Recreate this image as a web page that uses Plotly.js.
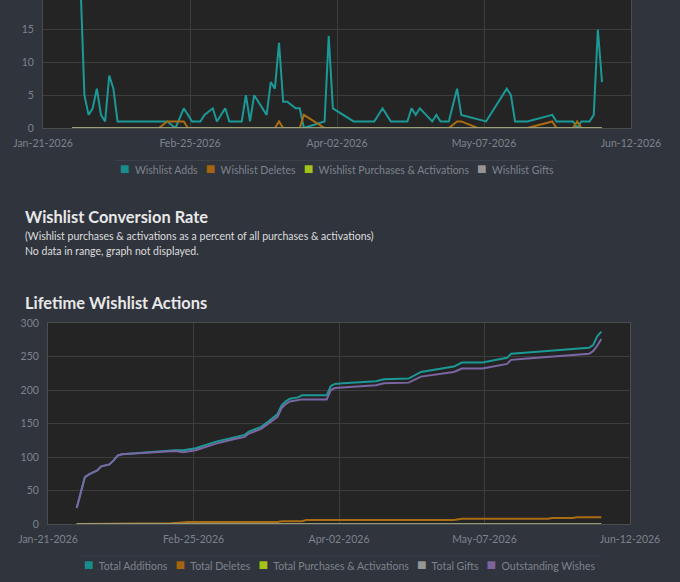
<!DOCTYPE html>
<html><head><meta charset="utf-8">
<script src="https://cdn.plot.ly/plotly-3.0.1.min.js"></script>
<style>
html,body{margin:0;padding:0;background:#30343d;width:680px;height:582px;overflow:hidden;font-family:Lato,"Noto Sans",sans-serif;}
#top{position:absolute;left:0;top:-220px;width:680px;height:413px;}
#bottom{position:absolute;left:0;top:302px;width:680px;height:280px;}
.h{position:absolute;left:25px;color:#e8e8e8;font-weight:bold;font-size:16.4px;line-height:20px;white-space:nowrap;}
.s{position:absolute;left:25px;color:#dddddd;font-size:10.5px;line-height:14px;white-space:nowrap;}
</style></head>
<body>
<div id="top"></div>
<div class="h" style="top:207px;">Wishlist Conversion Rate</div>
<div class="s" style="top:229px;">(Wishlist purchases &amp; activations as a percent of all purchases &amp; activations)</div>
<div class="s" style="top:244px;">No data in range, graph not displayed.</div>
<div class="h" style="top:293px;">Lifetime Wishlist Actions</div>
<div id="bottom"></div>
<script>
// ---------- Daily wishlist actions ----------
const addDates = ['2026-01-28','2026-01-29','2026-01-30','2026-01-31','2026-02-01','2026-02-02','2026-02-03','2026-02-04','2026-02-05','2026-02-06','2026-02-07','2026-02-08','2026-02-20','2026-02-22','2026-02-24','2026-02-26','2026-02-28','2026-03-01','2026-03-03','2026-03-04','2026-03-06','2026-03-07','2026-03-10','2026-03-11','2026-03-12','2026-03-13','2026-03-16','2026-03-17','2026-03-18','2026-03-19','2026-03-20','2026-03-21','2026-03-23','2026-03-24','2026-03-25','2026-03-30','2026-03-31','2026-04-01','2026-04-06','2026-04-11','2026-04-13','2026-04-15','2026-04-19','2026-04-20','2026-04-21','2026-04-22','2026-04-25','2026-04-26','2026-04-27','2026-04-29','2026-05-01','2026-05-02','2026-05-08','2026-05-13','2026-05-14','2026-05-15','2026-05-18','2026-05-24','2026-05-25','2026-05-29','2026-05-30','2026-05-31','2026-06-02','2026-06-03','2026-06-04','2026-06-05'];
const addValues = [24,23,23,5,2,3,6,2,1,8,6,1,1,0,3,1,1,2,3,1,3,1,1,5,1,5,2,7,6,13,4,4,3,3,0,1,14,3,1,1,3,1,1,3,2,3,1,2,1,1,6,2,1,6,5,1,1,2,1,1,0,1,1,2,15,7];

const delDates = ['2026-01-28','2026-02-18','2026-02-20','2026-02-22','2026-02-24','2026-02-25','2026-03-18','2026-03-19','2026-03-20','2026-03-24','2026-03-25','2026-03-30','2026-04-29','2026-05-01','2026-05-02','2026-05-06','2026-05-18','2026-05-24','2026-05-25','2026-05-29','2026-05-30','2026-05-31','2026-06-05'];
const delValues = [0,0,1,1,1,0,0,1,0,0,2,0,0,1,1,0,0,1,0,0,1,0,0];

const zeroDates = ['2026-01-28','2026-06-05'];
const purchaseValues = [0,0];
const giftValues = [0,0];

// ---------- Lifetime (cumulative) ----------
const lifeDates = ['2026-01-28','2026-01-29','2026-01-30','2026-01-31','2026-02-01','2026-02-02','2026-02-03','2026-02-04','2026-02-05','2026-02-06','2026-02-07','2026-02-08','2026-02-10','2026-02-14','2026-02-18','2026-02-21','2026-02-23','2026-02-26','2026-03-03','2026-03-07','2026-03-10','2026-03-11','2026-03-14','2026-03-16','2026-03-18','2026-03-19','2026-03-20','2026-03-21','2026-03-23','2026-03-24','2026-03-30','2026-03-31','2026-04-01','2026-04-03','2026-04-11','2026-04-13','2026-04-19','2026-04-22','2026-04-26','2026-04-30','2026-05-02','2026-05-07','2026-05-13','2026-05-14','2026-05-18','2026-05-25','2026-05-29','2026-06-02','2026-06-03','2026-06-04','2026-06-05'];
const totalAdditions = [24,47,70,74,77,80,86,88,89,95,102,104,105,106,108,110,110,113,123,129,133,138,145,154,164,177,183,187,189,192,192,206,209,210,213,216,217,227,231,235,241,241,248,254,256,259,261,263,267,280,287];
const outstandingWishes = [24,47,70,74,77,80,86,88,89,95,102,104,105,106,108,109,107,110,120,126,130,135,142,151,160,173,179,183,185,186,186,200,203,204,207,210,211,220,223,227,232,232,239,245,247,250,252,254,258,266,276];

const delCumDates = ['2026-01-28','2026-02-19','2026-02-20','2026-02-22','2026-02-24','2026-03-18','2026-03-19','2026-03-24','2026-03-25','2026-04-30','2026-05-01','2026-05-02','2026-05-23','2026-05-24','2026-05-29','2026-05-30','2026-06-05'];
const totalDeletes = [0,0,1,2,3,3,4,4,6,6,7,8,8,9,9,10,10];
const totalPurchases = [0,0];
const totalGifts = [0,0];

// ---------- Axis ticks & legend labels ----------
const xRange = ['2026-01-21','2026-06-12'];
const tickVals = ['2026-01-21','2026-02-25 12:00','2026-04-02','2026-05-07 12:00','2026-06-12'];
const tickText = ['Jan-21-2026','Feb-25-2026','Apr-02-2026','May-07-2026','Jun-12-2026'];
const topYTicks = [0,5,10,15];
const botYTicks = [0,50,100,150,200,250,300];
const topNames = ['Wishlist Adds','Wishlist Deletes','Wishlist Purchases & Activations','Wishlist Gifts'];
const botNames = ['Total Additions','Total Deletes','Total Purchases & Activations','Total Gifts','Outstanding Wishes'];

const C = {teal:'#1b9996', orange:'#aa6c12', lime:'#a3c21b', gray:'#9a9a9a', purple:'#7b67a3'};
const LC = {teal:'#178e8b', orange:'#a5640f', lime:'#a3c31a', gray:'#959595', purple:'#7a64a0'};
const FONT = 'Lato, "Noto Sans", sans-serif';
const tickColor = '#7d838c';

function esc(s){ return s.replace(/&/g,'&amp;'); }
function line(name, x, y, color, opacity){
  return {name:name, x:x, y:y, type:'scatter', mode:'lines', line:{color:color, width:2}, opacity:opacity||1, showlegend:false, hoverinfo:'x+y+name'};
}
function legendText(names, colors){
  return names.map(function(n,i){
    return '<span style="color:'+colors[i]+';font-size:16px">\u25A0</span>&nbsp;&nbsp;'+esc(n);
  }).join('&nbsp;&nbsp;&nbsp;');
}
function legendAnn(names, colors, y){
  return {xref:'paper', yref:'paper', x:0.5, y:y, xanchor:'center', yanchor:'middle', showarrow:false,
    text:legendText(names, colors), font:{family:FONT, size:10.5, color:tickColor}};
}
function xaxis(){
  return {type:'date', range:xRange, tickvals:tickVals, ticktext:tickText, ticks:'',
    showgrid:true, gridcolor:'#3d3d3d', gridwidth:1, showline:true, linecolor:'#4c4c4c', linewidth:1, mirror:true,
    zeroline:false, tickfont:{family:FONT, size:10.5, color:tickColor}, ticklabelstandoff:5, fixedrange:true};
}
function yaxis(range, vals){
  return {range:range, tickvals:vals, ticks:'', showgrid:true, gridcolor:'#3d3d3d', gridwidth:1,
    showline:true, linecolor:'#4c4c4c', linewidth:1, mirror:true, zeroline:false,
    tickfont:{family:FONT, size:10.5, color:tickColor}, ticklabelstandoff:6, fixedrange:true};
}

// Top chart
const topColors = [LC.teal, LC.orange, LC.lime, LC.gray];
const topData = [
  line(topNames[0], addDates, addValues, C.teal),
  line(topNames[1], delDates, delValues, C.orange),
  line(topNames[2], zeroDates, purchaseValues, C.lime, 0.7),
  line(topNames[3], zeroDates, giftValues, C.gray, 0.75)
];
const topLayout = {
  width:680, height:413, margin:{l:43, r:49, t:20, b:65}, showlegend:false,
  paper_bgcolor:'rgba(0,0,0,0)', plot_bgcolor:'#242424',
  xaxis:xaxis(), yaxis:yaxis([0,50], topYTicks),
  annotations:[legendAnn(topNames, topColors, -0.1201)],
  shapes:[{type:'line', xref:'paper', yref:'paper', x0:0.122, x1:0.874, y0:-0.099, y1:-0.099, line:{color:'#3c414b', width:1}}],
  font:{family:FONT}
};
Plotly.newPlot('top', topData, topLayout, {staticPlot:true, displayModeBar:false});

// Bottom chart
const botColors = [LC.teal, LC.orange, LC.lime, LC.gray, LC.purple];
const botData = [
  line(botNames[0], lifeDates, totalAdditions, C.teal),
  line(botNames[1], delCumDates, totalDeletes, C.orange),
  line(botNames[2], zeroDates, totalPurchases, C.lime, 0.7),
  line(botNames[3], zeroDates, totalGifts, C.gray, 0.75),
  line(botNames[4], lifeDates, outstandingWishes, C.purple)
];
const botLayout = {
  width:680, height:280, margin:{l:48, r:50, t:21, b:58}, showlegend:false,
  paper_bgcolor:'rgba(0,0,0,0)', plot_bgcolor:'#242424',
  xaxis:xaxis(), yaxis:yaxis([0,300], botYTicks),
  annotations:[legendAnn(botNames, botColors, -0.199)],
  shapes:[{type:'line', xref:'paper', yref:'paper', x0:0.055, x1:0.947, y0:-0.159, y1:-0.159, line:{color:'#3c414b', width:1}}],
  font:{family:FONT}
};
Plotly.newPlot('bottom', botData, botLayout, {staticPlot:true, displayModeBar:false});
</script>
</body></html>
